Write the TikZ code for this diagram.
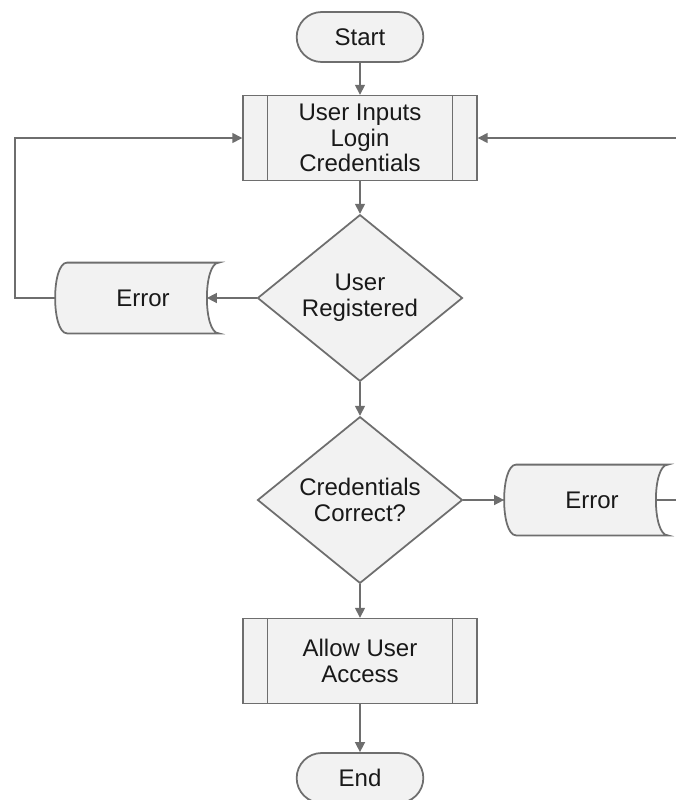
\documentclass[tikz,border=0pt]{standalone}
\usepackage{fontspec}
\setmainfont{Liberation Sans}
\usetikzlibrary{shapes.geometric,shapes.misc,arrows.meta,backgrounds}
\usepackage{xcolor}
\definecolor{edge}{HTML}{6E6E6E}
\definecolor{shade}{HTML}{F2F2F2}

\begin{document}
\begin{tikzpicture}
    \tikzset{
        x={(0.03cm,0cm)},
        y={(0cm,-0.03cm)},
        shapebox/.style={draw=edge,fill=shade,line width=1.5pt,align=center,
            inner sep=0mm,text=black!90,font=\fontsize{20.5}{22}\selectfont},
        terminal/.style={shapebox,rounded rectangle,minimum width=3.8cm,minimum height=1.5cm},
        process/.style={shapebox,rectangle,line width=1.2pt,minimum width=7.02cm,minimum height=2.55cm},
        decision/.style={shapebox,diamond,minimum width=6.15cm,minimum height=5cm},
        stored/.style={shapebox,draw=none,fill=none,minimum width=4.5cm,minimum height=2.07cm},
        flow/.style={draw=edge,line width=1.3pt,-{Triangle[length=3mm,width=3mm]}},
        link/.style={draw=edge,line width=1.3pt}
    }
    \clip (0,0) rectangle (676,800);
    \node[terminal] (start) at (360,37) {Start};
    \node[process] (login) at (360,138) {User Inputs\\Login\\Credentials};
    \node[decision] (reg) at (360,298) {User\\Registered};
    \node[stored] (err1) at (143,298) {Error};
    \node[decision] (cred) at (360,500) {Credentials\\Correct?};
    \node[stored] (err2) at (592,500) {Error};
    \node[process] (allow) at (360,661) {Allow User\\Access};
    \node[terminal] (done) at (360,778) {End};
    % side bars
    \foreach \n in {login,allow} {
        \draw[edge,line width=1.2pt] ([xshift=0.75cm]\n.north west) -- ([xshift=0.75cm]\n.south west);
        \draw[edge,line width=1.2pt] ([xshift=-0.75cm]\n.north east) -- ([xshift=-0.75cm]\n.south east);
    }
    % stored data outlines
    \begin{pgfonlayer}{background}
        \foreach \n in {err1,err2}
            \draw[draw=edge,fill=shade,line width=1.5pt] (\n.north west)
                .. controls ([xshift=-0.48cm]\n.north west) and ([xshift=-0.48cm]\n.south west) .. (\n.south west)
                -- (\n.south east)
                .. controls ([xshift=-0.48cm]\n.south east) and ([xshift=-0.48cm]\n.north east) .. (\n.north east)
                -- cycle;
    \end{pgfonlayer}
    \coordinate (farleft) at (15,298);
    \coordinate (upleft) at (15,138);
    \coordinate (edgeup) at (680,138);
    \coordinate (edgelow) at (680,500);
    % connectors
    \draw[flow] (start) -- (login);
    \draw[flow] (login) -- (reg);
    \draw[flow] (reg.west) -- ([xshift=-0.36cm]err1.east);
    \draw[flow] (reg) -- (cred);
    \draw[flow] (cred.east) -- ([xshift=-0.36cm]err2.west);
    \draw[flow] (cred) -- (allow);
    \draw[flow] (allow) -- (done);
    \draw[flow] ([xshift=-0.36cm]err1.west) -- (farleft) -- (upleft) -- (login.west);
    \draw[link] ([xshift=-0.36cm]err2.east) -- (edgelow);
    \draw[flow] (edgeup) -- (login.east);
\end{tikzpicture}
\end{document}
